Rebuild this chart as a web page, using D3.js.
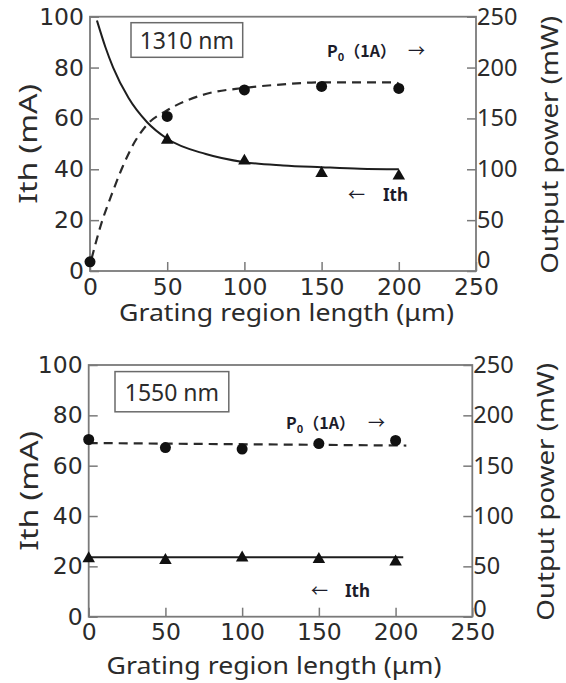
<!DOCTYPE html>
<html>
<head>
<meta charset="utf-8">
<script src="https://cdn.jsdelivr.net/npm/d3@7"></script>
<style>
  body { margin: 0; background: #fff; }
  svg { display: block; }
</style>
</head>
<body>
<div id="chart"></div>
<script>
// Ith and output power vs grating region length, 1310 nm and 1550 nm panels

const gratingLen = [0, 50, 100, 150, 200];
const xTicks = [0, 50, 100, 150, 200, 250];
const ithTicks = [0, 20, 40, 60, 80, 100];
const powerTicks = [0, 50, 100, 150, 200, 250];

// 1310 nm: measured points (no Ith triangle at 0 um)
const ith1310 = [null, 51.5, 43.3, 38.4, 37.4];
const power1310 = [9, 152, 178, 181.5, 179.5];
// 1310 nm: fitted curves
const ithFit1310 = [[4.5, 98.5], [10, 88], [15, 80], [25, 68], [37, 58.5], [50, 52], [75, 46],
                    [100, 42.8], [125, 41.5], [150, 40.8], [175, 40.2], [200, 40.0]];
const powerFit1310 = [[1, 12], [7, 45], [14, 75], [21, 102], [29, 127], [37, 144], [50, 158],
                      [75, 174], [100, 180], [125, 183.5], [150, 185.5], [175, 185.5], [198, 185.5], [200, 184]];

// 1550 nm
const ith1550 = [23.1, 22.4, 23.4, 22.8, 21.8];
const power1550 = [176, 168, 166.5, 172, 175];
const ithFit1550 = [[0, 23.6], [205, 23.6]];
const powerFit1550 = [[0, 172.5], [207, 170]];

const width = 566, height = 683;

const svg = d3.select("#chart").append("svg")
              .attr("width", width)
              .attr("height", height);

const panels = [
    {
        label: "1310 nm", ith: ith1310, power: power1310, ithFit: ithFit1310, powerFit: powerFit1310,
        left: 90, right: 476, top: 16.7, bottom: 271,
        box: [131, 22.7, 242.7, 57.3],
        xTitle: [286.5, 321], yTitleX: 27, y2TitleX: 548, zeroShift: -11,
        pLabel: [327, 57], pArrow: 408, ithLabel: [383, 201], ithArrow: 348
    },
    {
        label: "1550 nm", ith: ith1550, power: power1550, ithFit: ithFit1550, powerFit: powerFit1550,
        left: 88.7, right: 472.3, top: 365, bottom: 616.7,
        box: [115, 371.6, 228.8, 411.8],
        xTitle: [274, 674], yTitleX: 27.5, y2TitleX: 544, zeroShift: -8,
        pLabel: [286, 429], pArrow: 368, ithLabel: [345, 597], ithArrow: 311
    }
];

panels.forEach(drawPanel);

function drawPanel(p) {
    const g = svg.append("g");

    const xScale = d3.scaleLinear().domain([0, 250]).range([p.left, p.right]);
    const yScale = d3.scaleLinear().domain([0, 100]).range([p.bottom, p.top]);
    const y2Scale = d3.scaleLinear().domain([0, 250]).range([p.bottom, p.top]);

    // Axes, ticks pointing inwards
    const xAxis = g.append("g")
                   .attr("transform", "translate(0," + p.bottom + ")")
                   .call(d3.axisBottom(xScale).tickValues(xTicks).tickSizeInner(-9).tickSizeOuter(0).tickPadding(7));
    const yAxis = g.append("g")
                   .attr("transform", "translate(" + p.left + ",0)")
                   .call(d3.axisLeft(yScale).tickValues(ithTicks).tickSizeInner(-9).tickSizeOuter(0).tickPadding(6));
    const y2Axis = g.append("g")
                    .attr("transform", "translate(" + p.right + ",0)")
                    .call(d3.axisRight(y2Scale).tickValues(powerTicks).tickSizeInner(-9).tickSizeOuter(0).tickPadding(1));

    [xAxis, yAxis, y2Axis].forEach(function (a) {
        a.select(".domain").remove();
        a.selectAll(".tick line").attr("stroke", "#7a7a7a").attr("stroke-width", 1.5);
        a.selectAll(".tick text")
         .attr("fill", "#2b2b2b")
         .style("font-family", "'DejaVu Sans', sans-serif")
         .style("font-size", "23.5px");
    });
    y2Axis.selectAll(".tick text")
          .style("font-family", "'Noto Sans', sans-serif")
          .style("font-size", "23.5px");
    // the right-hand "0" sits a little higher, clear of the "250" below it
    y2Axis.selectAll(".tick text")
          .filter(d => d === 0)
          .attr("y", p.zeroShift);

    // Plot frame
    g.append("rect")
     .attr("x", p.left)
     .attr("y", p.top)
     .attr("width", p.right - p.left)
     .attr("height", p.bottom - p.top)
     .attr("fill", "none")
     .attr("stroke", "#7a7a7a")
     .attr("stroke-width", 1.8);

    // Axis titles
    g.append("text")
     .attr("x", p.xTitle[0])
     .attr("y", p.xTitle[1])
     .attr("text-anchor", "middle")
     .attr("textLength", 335)
     .attr("lengthAdjust", "spacingAndGlyphs")
     .attr("fill", "#2b2b2b")
     .style("font-family", "'Noto Sans', sans-serif")
     .style("font-size", "23px")
     .text("Grating region length (μm)");

    const yMid = (p.top + p.bottom) / 2;
    g.append("text")
     .attr("transform", "translate(" + p.yTitleX + "," + yMid + ") rotate(-90)")
     .attr("text-anchor", "middle")
     .attr("dominant-baseline", "central")
     .attr("textLength", 120)
     .attr("lengthAdjust", "spacingAndGlyphs")
     .attr("fill", "#2b2b2b")
     .style("font-family", "'Noto Sans', sans-serif")
     .style("font-size", "25px")
     .text("Ith (mA)");

    g.append("text")
     .attr("transform", "translate(" + p.y2TitleX + "," + (yMid + 1) + ") rotate(-90)")
     .attr("text-anchor", "middle")
     .attr("dominant-baseline", "central")
     .attr("textLength", 258)
     .attr("lengthAdjust", "spacingAndGlyphs")
     .attr("fill", "#2b2b2b")
     .style("font-family", "'Noto Sans', sans-serif")
     .style("font-size", "24px")
     .text("Output power (mW)");

    // Wavelength box
    g.append("rect")
     .attr("x", p.box[0])
     .attr("y", p.box[1])
     .attr("width", p.box[2] - p.box[0])
     .attr("height", p.box[3] - p.box[1])
     .attr("fill", "#fff")
     .attr("stroke", "#6a6a6a")
     .attr("stroke-width", 1.5);
    g.append("text")
     .attr("x", (p.box[0] + p.box[2]) / 2)
     .attr("y", (p.box[1] + p.box[3]) / 2)
     .attr("text-anchor", "middle")
     .attr("dominant-baseline", "central")
     .attr("fill", "#2b2b2b")
     .style("font-family", "'Noto Sans', sans-serif")
     .style("font-size", "23px")
     .text(p.label);

    // Fitted curves
    const ithLine = d3.line()
                      .x(d => xScale(d[0]))
                      .y(d => yScale(d[1]))
                      .curve(d3.curveMonotoneX);
    const powerLine = d3.line()
                        .x(d => xScale(d[0]))
                        .y(d => y2Scale(d[1]))
                        .curve(d3.curveMonotoneX);

    g.append("path")
     .attr("d", powerLine(p.powerFit))
     .attr("fill", "none")
     .attr("stroke", "#2a2a2a")
     .attr("stroke-width", 2.2)
     .attr("stroke-dasharray", "9,6");
    g.append("path")
     .attr("d", ithLine(p.ithFit))
     .attr("fill", "none")
     .attr("stroke", "#1e1e1e")
     .attr("stroke-width", 2);

    // Measured points
    g.append("g")
     .selectAll("circle")
     .data(gratingLen.map((x, i) => [x, p.power[i]]))
     .enter()
     .append("circle")
     .attr("cx", d => xScale(d[0]))
     .attr("cy", d => y2Scale(d[1]))
     .attr("r", 5.5)
     .attr("fill", "#111");

    const tri = d3.symbol().type(d3.symbolTriangle).size(68);
    g.append("g")
     .selectAll("path")
     .data(gratingLen.map((x, i) => [x, p.ith[i]]).filter(d => d[1] != null))
     .enter()
     .append("path")
     .attr("d", tri)
     .attr("transform", d => "translate(" + xScale(d[0]) + "," + yScale(d[1]) + ")")
     .attr("fill", "#111");

    // Series annotations
    const pText = g.append("text")
                   .attr("x", p.pLabel[0])
                   .attr("y", p.pLabel[1])
                   .attr("fill", "#1c1c2a")
                   .style("font-family", "'Noto Sans CJK JP', sans-serif")
                   .style("font-weight", "bold")
                   .style("font-size", "16px");
    pText.append("tspan").text("P");
    pText.append("tspan").attr("dy", 4).style("font-size", "11px").text("0");
    pText.append("tspan").attr("dy", -4).text("（1A）");

    g.append("text")
     .attr("x", p.pArrow)
     .attr("y", p.pLabel[1])
     .attr("fill", "#1c1c2a")
     .style("font-family", "'Noto Sans CJK JP', sans-serif")
     .style("font-size", "17px")
     .text("→");

    g.append("text")
     .attr("x", p.ithArrow)
     .attr("y", p.ithLabel[1])
     .attr("fill", "#1c1c2a")
     .style("font-family", "'Noto Sans CJK JP', sans-serif")
     .style("font-size", "17px")
     .text("←");
    g.append("text")
     .attr("x", p.ithLabel[0])
     .attr("y", p.ithLabel[1])
     .attr("fill", "#1c1c2a")
     .style("font-family", "'Noto Sans', sans-serif")
     .style("font-weight", "bold")
     .style("font-size", "17px")
     .text("Ith");
}
</script>
</body>
</html>
